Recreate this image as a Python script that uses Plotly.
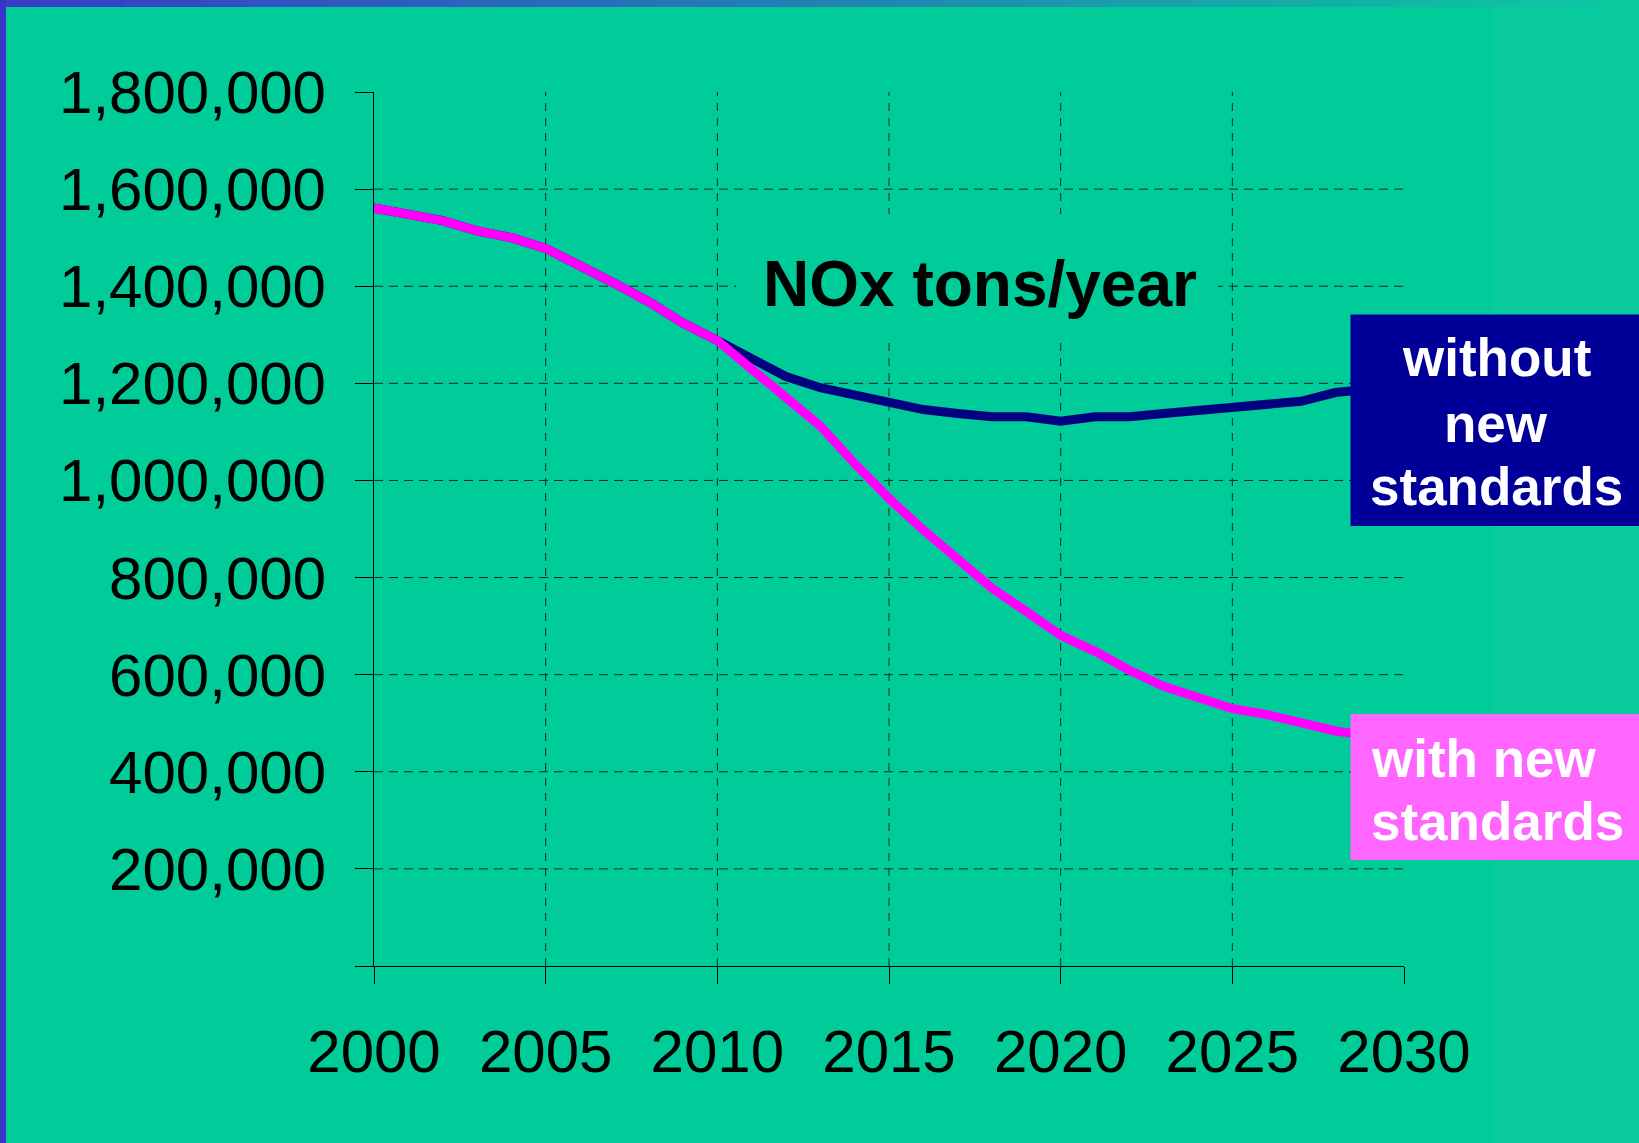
import plotly.graph_objects as go

# ---------------- data ----------------
years = list(range(2000, 2031))
with_new_standards = [1561000, 1549000, 1535000, 1514000, 1500000, 1478000, 1444000, 1406000,
                      1368000, 1324000, 1288000, 1231000, 1173000, 1112000, 1035000, 963000,
                      898000, 836000, 778000, 730000, 681000, 648000, 609000, 576000, 554000,
                      530000, 518000, 500000, 484000, 474000, 466000]
without_new_standards = [1561000, 1549000, 1535000, 1514000, 1500000, 1478000, 1444000, 1406000,
                         1368000, 1324000, 1288000, 1250000, 1214000, 1191000, 1175000, 1160000,
                         1146000, 1138000, 1131000, 1131000, 1122000, 1131000, 1131000, 1138000,
                         1145000, 1152000, 1157000, 1163000, 1181000, 1188000, 1195000]
y_tickvals = [0, 200000, 400000, 600000, 800000, 1000000, 1200000, 1400000, 1600000, 1800000]
y_ticktext = ["", "200,000", "400,000", "600,000", "800,000", "1,000,000", "1,200,000",
              "1,400,000", "1,600,000", "1,800,000"]
x_tickvals = [2000, 2005, 2010, 2015, 2020, 2025, 2030]
y_grid = [200000, 400000, 600000, 800000, 1000000, 1200000, 1400000, 1600000]
x_grid = [2005, 2010, 2015, 2020, 2025]
title_text = "NOx tons/year"
label_without = ["without", "new", "standards"]
label_with = ["with new", "standards"]

# ---------------- layout geometry (page pixels) ----------------
W, H = 1639, 1143
L, R, T, B = 374, 235, 92, 177
PW, PH = W - L - R, H - T - B


def px(xp):
    return (xp - L) / PW


def py(yp):
    return (H - B - yp) / PH


BG = "#00CC99"
FONT = "Arial, 'Liberation Sans', Helvetica, sans-serif"
GRID = "#0d2a20"

fig = go.Figure()
fig.add_trace(go.Scatter(x=years, y=without_new_standards, mode="lines",
                         line=dict(color="#000080", width=9), name="without new standards"))
fig.add_trace(go.Scatter(x=years, y=with_new_standards, mode="lines",
                         line=dict(color="#FF00FF", width=9), name="with new standards"))

shapes = []
# gridlines
for v in y_grid:
    shapes.append(dict(type="line", xref="paper", yref="y", x0=0, x1=1, y0=v, y1=v,
                       line=dict(color=GRID, width=1, dash="9px,6px"), layer="below"))
for v in x_grid:
    shapes.append(dict(type="line", xref="x", yref="paper", x0=v, x1=v, y0=0, y1=1,
                       line=dict(color=GRID, width=1, dash="8px,7px"), layer="below"))

# page decoration: slightly lighter right strip, top gradient bar, left bar
shapes.append(dict(type="rect", xref="paper", yref="paper", x0=px(1493), x1=px(W), y0=py(H), y1=py(0),
                   fillcolor="#0ACB9D", line=dict(width=0), layer="below"))
nseg = 40
c0 = (56, 60, 200)
c1 = (12, 200, 160)
for i in range(nseg):
    t = i / (nseg - 1)
    col = "rgb(%d,%d,%d)" % tuple(round(a + (b - a) * t) for a, b in zip(c0, c1))
    shapes.append(dict(type="rect", xref="paper", yref="paper",
                       x0=px(W * i / nseg), x1=px(W * (i + 1) / nseg + 1), y0=py(7), y1=py(0),
                       fillcolor=col, line=dict(width=0), layer="above"))
shapes.append(dict(type="rect", xref="paper", yref="paper", x0=px(0), x1=px(6), y0=py(H), y1=py(0),
                   fillcolor="#3535C8", line=dict(width=0), layer="above"))

# title background and label boxes
shapes.append(dict(type="rect", xref="paper", yref="paper", x0=px(736), x1=px(1218), y0=py(337), y1=py(214),
                   fillcolor=BG, line=dict(width=0), layer="above"))
shapes.append(dict(type="rect", xref="paper", yref="paper", x0=px(1350.5), x1=px(W + 5), y0=py(526), y1=py(314.6),
                   fillcolor="#000099", line=dict(width=0), layer="above"))
shapes.append(dict(type="rect", xref="paper", yref="paper", x0=px(1350.5), x1=px(W + 5), y0=py(860), y1=py(714),
                   fillcolor="#FF66FF", line=dict(width=0), layer="above"))

annotations = [dict(text="<b>%s</b>" % title_text, xref="paper", yref="paper", x=px(980), y=py(283.8),
                    xanchor="center", yanchor="middle", showarrow=False,
                    font=dict(family=FONT, size=64, color="black"))]
for txt, base in zip(label_without, [376, 442, 505]):
    annotations.append(dict(text="<b>%s</b>" % txt, xref="paper", yref="paper", x=px(1496), y=py(base - 18.4),
                            xanchor="center", yanchor="middle", showarrow=False,
                            font=dict(family=FONT, size=53, color="white")))
for txt, base in zip(label_with, [776.7, 839.5]):
    annotations.append(dict(text="<b>%s</b>" % txt, xref="paper", yref="paper", x=px(1369), y=py(base - 18.4),
                            xanchor="left", yanchor="middle", showarrow=False,
                            font=dict(family=FONT, size=53, color="white")))

fig.update_layout(
    width=W, height=H,
    margin=dict(l=L, r=R, t=T, b=B, pad=0),
    paper_bgcolor=BG, plot_bgcolor=BG,
    showlegend=False,
    shapes=shapes,
    annotations=annotations,
    font=dict(family=FONT, color="black"),
    xaxis=dict(range=[2000, 2030], tickmode="array", tickvals=x_tickvals, showgrid=False,
               zeroline=False, showline=True, linecolor="black", linewidth=1,
               ticks="outside", ticklen=17, tickcolor="black", tickwidth=1,
               tickfont=dict(family=FONT, size=60, color="black"), ticklabelstandoff=16),
    yaxis=dict(range=[0, 1800000], tickmode="array", tickvals=y_tickvals, ticktext=y_ticktext,
               showgrid=False, zeroline=False, showline=True, linecolor="black", linewidth=1,
               ticks="outside", ticklen=18, tickcolor="black", tickwidth=1,
               tickfont=dict(family=FONT, size=60, color="black"), ticklabelstandoff=17),
)

fig.write_html("out.html", config={"displayModeBar": False},
               post_script="document.body.style.margin='0';document.body.style.overflow='hidden';")
